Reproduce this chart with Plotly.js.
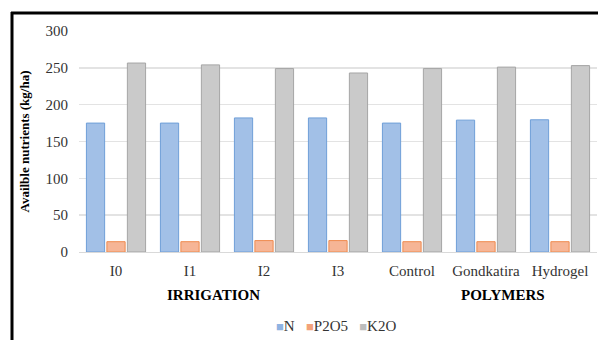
<!DOCTYPE html>
<html>
<head>
<meta charset="utf-8">
<script src="https://cdn.plot.ly/plotly-3.0.1.min.js"></script>
<style>
html,body{margin:0;padding:0;background:#fff;}
#chart{width:598px;height:340px;}
</style>
</head>
<body>
<div id="chart"></div>
<script>
const categories = ["I0", "I1", "I2", "I3", "Control", "Gondkatira", "Hydrogel"];
const nValues = [175, 175, 182, 182, 175, 179, 179.5];
const p2o5Values = [14, 14, 15.5, 15.5, 14, 14, 14];
const k2oValues = [256.5, 254, 249, 243, 249, 251, 253];
const yTicks = [0, 50, 100, 150, 200, 250, 300];
const seriesNames = ["N", "P2O5", "K2O"];

const W = 598, H = 340;
const M = {l: 79, r: 1, t: 31, b: 88};
const PW = W - M.l - M.r, PH = H - M.t - M.b;
const px = x => (x - M.l) / PW;
const py = y => (H - M.b - y) / PH;

const serif = "'Liberation Serif'";
const fills = ["#a2c0e7", "#f6b596", "#cacaca"];
const edges = ["#6f9fd8", "#ef8a4f", "#a5a5a5"];
const legendColors = ["#8fb3e2", "#f3a27a", "#bdbdbd"];
const seriesValues = [nValues, p2o5Values, k2oValues];

const traces = seriesNames.map((nm, i) => ({
  type: "bar", name: nm, x: categories, y: seriesValues[i],
  marker: {color: fills[i], line: {color: edges[i], width: 1}}
}));

const legendText = seriesNames.map((nm, i) =>
  '<span style="color:' + legendColors[i] + ';font-size:13px">■</span>' + nm
).join('&nbsp;&nbsp;&nbsp;');

const layout = {
  width: W, height: H,
  margin: M,
  paper_bgcolor: "#fff", plot_bgcolor: "#fff",
  barmode: "group", bargap: 0.17, bargroupgap: 0.11,
  font: {family: serif, size: 15, color: "#333"},
  showlegend: false,
  xaxis: {type: "category", automargin: false, showgrid: false, zeroline: false, showline: true,
          linecolor: "#d9d9d9", linewidth: 1, ticks: "", ticklabelstandoff: 5,
          tickfont: {family: serif, size: 15, color: "#333"},
          fixedrange: true},
  yaxis: {range: [0, 300], automargin: false, tickvals: yTicks, showgrid: true, gridcolor: "#e3e3e3", gridwidth: 1.5,
          zeroline: false, showline: false, ticks: "", ticklabelstandoff: 10,
          tickfont: {family: serif, size: 15, color: "#333"},
          title: {text: "Availble nutrients (kg/ha)", font: {family: serif, size: 13, color: "#000", weight: "bold"}, standoff: 12},
          fixedrange: true},
  annotations: [
    {text: "<b>IRRIGATION</b>", xref: "paper", yref: "paper", x: px(213), y: py(295),
     xanchor: "center", yanchor: "middle", showarrow: false, font: {family: serif, size: 15, color: "#000"}},
    {text: "<b>POLYMERS</b>", xref: "paper", yref: "paper", x: px(503), y: py(295),
     xanchor: "center", yanchor: "middle", showarrow: false, font: {family: serif, size: 15, color: "#000"}},
    {text: legendText, xref: "paper", yref: "paper", x: px(336), y: py(326),
     xanchor: "center", yanchor: "middle", showarrow: false, font: {family: serif, size: 15, color: "#333"}}
  ],
  shapes: [
    {type: "line", xref: "paper", yref: "paper", x0: px(11), x1: px(598), y0: py(13), y1: py(13),
     line: {color: "#000", width: 3}},
    {type: "line", xref: "paper", yref: "paper", x0: px(12), x1: px(12), y0: py(12), y1: py(340),
     line: {color: "#000", width: 3}}
  ]
};

Plotly.newPlot("chart", traces, layout, {staticPlot: true, displayModeBar: false});
</script>
</body>
</html>
